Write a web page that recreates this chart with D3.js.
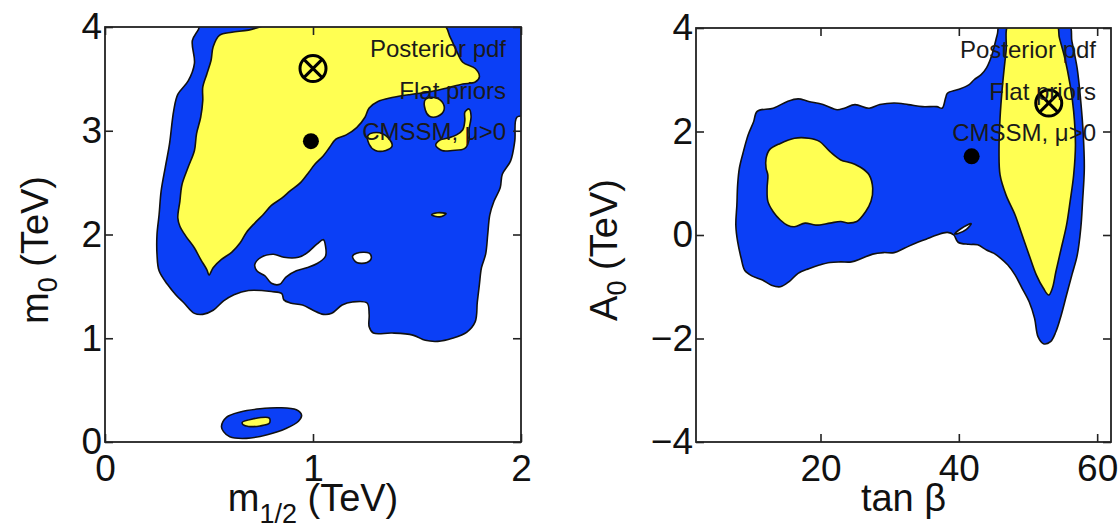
<!DOCTYPE html>
<html>
<head>
<meta charset="utf-8">
<script src="https://cdn.jsdelivr.net/npm/d3@7"></script>
<style>
  body { margin: 0; background: #fff; }
  svg { display: block; }
  text { font-family: "Liberation Sans", Arial, Helvetica, sans-serif; fill: #111; }
</style>
</head>
<body>
<svg id="chart" width="1118" height="525"></svg>
<script>
// Posterior pdf contours, CMSSM mu>0, flat priors

// Left panel: m_1/2 (TeV) vs m_0 (TeV)
const leftXTicks = [0, 1, 2];
const leftYTicks = [0, 1, 2, 3, 4];

// 95% region (blue), outer boundary
const leftBlue = [
    [0.47,4.08],[2.03,4.08],[2.03,3.16],[1.98,3.13],[1.97,2.90],[1.95,2.71],[1.91,2.58],[1.90,2.45],
    [1.87,2.32],[1.85,2.19],[1.84,2.00],[1.83,1.81],[1.81,1.68],[1.80,1.52],[1.79,1.35],[1.78,1.16],
    [1.74,1.06],[1.67,1.00],[1.60,0.97],[1.54,0.98],[1.48,1.03],[1.38,1.05],[1.29,1.05],[1.27,1.11],
    [1.27,1.23],[1.26,1.34],[1.19,1.35],[1.14,1.32],[1.09,1.24],[1.05,1.23],[1.00,1.27],[0.95,1.32],
    [0.89,1.34],[0.86,1.37],[0.85,1.43],[0.80,1.45],[0.69,1.46],[0.62,1.42],[0.57,1.36],[0.52,1.27],
    [0.47,1.23],[0.43,1.24],[0.38,1.34],[0.34,1.42],[0.30,1.52],[0.26,1.65],[0.25,1.81],[0.25,2.00],
    [0.26,2.19],[0.27,2.42],[0.29,2.65],[0.31,2.87],[0.33,3.19],[0.35,3.35],[0.40,3.48],[0.43,3.65],
    [0.42,3.87],[0.45,3.98]
];
// white holes inside the blue region
const leftHoles = [
    [[0.72,1.71],[0.75,1.78],[0.81,1.81],[0.86,1.78],[0.93,1.78],[0.97,1.82],[1.02,1.91],[1.05,1.95],
     [1.06,1.89],[1.06,1.79],[1.02,1.72],[0.97,1.68],[0.92,1.65],[0.87,1.59],[0.84,1.52],[0.80,1.53],
     [0.77,1.60],[0.73,1.65]],
    [[1.19,1.79],[1.21,1.82],[1.27,1.82],[1.28,1.77],[1.26,1.73],[1.21,1.73]]
];
// small island near the origin
const leftIslandBlue = [
    [0.56,0.15],[0.585,0.24],[0.65,0.29],[0.745,0.32],[0.84,0.33],[0.92,0.31],[0.945,0.26],[0.93,0.20],
    [0.87,0.13],[0.78,0.07],[0.68,0.035],[0.60,0.05],[0.57,0.10]
];
// 68% regions (yellow)
const leftYellow = [
    [[0.55,3.92],[0.61,3.95],[0.69,3.97],[0.80,4.03],[0.86,4.04],[1.62,4.04],[1.66,3.90],[1.69,3.77],
     [1.72,3.66],[1.78,3.60],[1.80,3.52],[1.78,3.47],[1.72,3.45],[1.64,3.41],[1.55,3.37],[1.47,3.35],
     [1.38,3.32],[1.31,3.28],[1.27,3.22],[1.25,3.13],[1.21,3.03],[1.16,2.96],[1.11,2.92],[1.08,2.84],
     [1.05,2.76],[1.01,2.68],[0.98,2.60],[0.94,2.50],[0.89,2.42],[0.85,2.35],[0.80,2.28],[0.76,2.19],
     [0.72,2.11],[0.68,2.02],[0.65,1.92],[0.61,1.83],[0.56,1.76],[0.52,1.68],[0.50,1.61],[0.49,1.66],
     [0.46,1.76],[0.43,1.87],[0.39,1.98],[0.36,2.08],[0.35,2.16],[0.36,2.32],[0.37,2.48],[0.40,2.65],
     [0.43,2.81],[0.44,2.97],[0.46,3.13],[0.47,3.29],[0.47,3.42],[0.49,3.55],[0.51,3.68],[0.52,3.81]],
    [[1.266,2.96],[1.32,2.98],[1.37,2.91],[1.38,2.85],[1.35,2.81],[1.30,2.81],[1.27,2.87]],
    [[1.54,3.30],[1.58,3.32],[1.62,3.28],[1.63,3.20],[1.60,3.14],[1.56,3.14],[1.54,3.20]],
    [[1.73,3.18],[1.75,3.21],[1.76,3.14],[1.75,3.01],[1.75,2.91],[1.73,2.83],[1.67,2.81],[1.62,2.81],
     [1.59,2.86],[1.61,2.91],[1.65,2.93],[1.69,2.96],[1.72,3.01],[1.73,3.10]],
    [[1.57,2.19],[1.60,2.21],[1.64,2.20],[1.61,2.17]],
    [[0.66,0.19],[0.705,0.22],[0.79,0.23],[0.79,0.18],[0.745,0.155],[0.69,0.15],[0.665,0.165]]
];
const leftMean = [1.0, 3.6];
const leftBest = [0.99, 2.9];

// Right panel: tan beta vs A_0 (TeV)
const rightXTicks = [20, 40, 60];
const rightYTicks = [-4, -2, 0, 2, 4];

const rightBlue = [
    [10.84,2.39],[13.16,2.45],[15.21,2.58],[16.76,2.63],[18.3,2.58],[20.36,2.52],[22.41,2.42],[23.44,2.45],
    [24.98,2.52],[27.04,2.45],[28.58,2.52],[30.64,2.55],[32.69,2.52],[34.75,2.48],[36.81,2.48],[37.58,2.45],
    [38.09,2.65],[38.35,2.74],[39.89,2.81],[41.44,2.90],[42.21,3.00],[43.23,3.10],[44.0,3.23],[44.78,3.48],
    [45.55,3.87],[46.06,4.1],[55.83,4.1],[56.35,3.74],[57.1,3.23],[57.63,2.58],[57.99,1.94],[58.14,1.29],
    [57.89,0.65],[57.63,0.13],[57.12,-0.39],[56.35,-0.77],[55.57,-1.16],[54.8,-1.55],[54.03,-1.87],[53.26,-2.06],
    [52.23,-2.10],[51.46,-1.97],[50.95,-1.61],[50.17,-1.29],[49.15,-1.03],[48.12,-0.77],[47.09,-0.58],[46.06,-0.45],
    [45.03,-0.35],[44.0,-0.29],[42.72,-0.19],[41.44,-0.18],[39.89,-0.14],[39.27,0.0],[38.35,0.05],[36.81,0.0],
    [35.27,-0.08],[33.72,-0.16],[32.18,-0.25],[30.64,-0.34],[29.1,-0.34],[27.55,-0.37],[26.01,-0.45],[24.47,-0.52],
    [22.93,-0.52],[21.38,-0.53],[19.84,-0.58],[18.3,-0.65],[16.76,-0.74],[15.47,-0.9],[14.19,-1.0],[12.9,-0.97],
    [11.61,-0.87],[10.07,-0.79],[9.04,-0.68],[8.53,-0.45],[8.02,-0.13],[7.76,0.19],[7.91,0.58],[8.02,0.97],
    [8.27,1.29],[8.79,1.58],[9.56,1.94],[10.33,2.19]
];
const rightHoles = [
    [[39.4,0.02],[40.4,0.13],[41.8,0.22],[41.1,0.11],[39.9,0.03]]
];
const rightYellow = [
    [[12.13,1.48],[12.64,1.65],[14.19,1.77],[16.24,1.87],[18.3,1.87],[19.84,1.81],[21.38,1.61],[22.93,1.45],
     [24.47,1.39],[26.01,1.29],[27.04,1.16],[27.55,0.90],[27.3,0.65],[26.52,0.45],[25.24,0.26],[23.95,0.23],
     [22.93,0.26],[21.38,0.23],[19.33,0.19],[17.78,0.23],[16.24,0.16],[15.21,0.19],[14.19,0.29],[13.16,0.45],
     [12.39,0.65],[12.28,0.90],[12.39,1.16],[12.13,1.29]],
    [[47.35,4.1],[46.83,3.55],[46.32,2.9],[45.96,2.26],[45.81,1.61],[45.96,1.16],[46.83,0.77],[48.12,0.39],
     [49.15,0.0],[50.17,-0.39],[51.2,-0.77],[52.23,-1.03],[53.0,-1.16],[53.52,-1.03],[54.03,-0.71],[54.8,-0.26],
     [55.57,0.19],[56.09,0.65],[56.6,1.16],[56.86,1.74],[56.6,2.39],[56.09,2.9],[55.32,3.42],[54.54,3.81],
     [54.03,4.1]]
];
const rightMean = [53.0, 2.55];
const rightBest = [41.85, 1.52];

const annotations = ['Posterior pdf', 'Flat priors', 'CMSSM, \u03bc>0'];

const colors = { blue: '#0b3ff6', yellow: '#ffff52', hole: '#ffffff', line: '#111111' };

const panels = [
    {
        id: 'L', box: { left: 105, right: 521, top: 27, bottom: 442 },
        xDomain: [0, 2], yDomain: [0, 4], xTicks: leftXTicks, yTicks: leftYTicks,
        blue: [leftBlue, leftIslandBlue], holes: leftHoles, yellow: leftYellow,
        mean: leftMean, best: leftBest,
        xTitle: [['m', 38, 0], ['1/2', 27, 12], [' (TeV)', 38, -12]],
        yTitle: [['m', 38, 0], ['0', 27, 9], [' (TeV)', 38, -9]],
        yTitleX: 48
    },
    {
        id: 'R', box: { left: 696, right: 1111, top: 28, bottom: 442 },
        xDomain: [2, 62], yDomain: [-4, 4], xTicks: rightXTicks, yTicks: rightYTicks,
        blue: [rightBlue], holes: rightHoles, yellow: rightYellow,
        mean: rightMean, best: rightBest,
        xTitle: [['tan \u03b2', 38, 0]],
        yTitle: [['A', 38, 0], ['0', 27, 9], [' (TeV)', 38, -9]],
        yTitleX: 617
    }
];

const svg = d3.select('#chart');
const fmt = v => v < 0 ? '\u2212' + Math.abs(v) : d3.format('d')(v);

panels.forEach(drawPanel);

function drawPanel(p) {
    const b = p.box;
    const x = d3.scaleLinear().domain(p.xDomain).range([b.left, b.right]);
    const y = d3.scaleLinear().domain(p.yDomain).range([b.bottom, b.top]);

    const line = d3.line()
        .x(d => x(d[0]))
        .y(d => y(d[1]))
        .curve(d3.curveCatmullRomClosed.alpha(0.5));

    svg.append('clipPath')
        .attr('id', 'clip' + p.id)
        .append('rect')
        .attr('x', b.left).attr('y', b.top)
        .attr('width', b.right - b.left).attr('height', b.bottom - b.top);

    const g = svg.append('g').attr('clip-path', `url(#clip${p.id})`);

    const layers = [
        [p.blue, colors.blue],
        [p.holes, colors.hole],
        [p.yellow, colors.yellow]
    ];
    layers.forEach(([polys, fill]) => {
        g.selectAll(null)
            .data(polys)
            .enter().append('path')
            .attr('d', line)
            .attr('fill', fill)
            .attr('stroke', colors.line)
            .attr('stroke-width', 1.6)
            .attr('stroke-linejoin', 'round');
    });

    // posterior mean (circled cross) and best fit (dot)
    const r = 13;
    const mx = x(p.mean[0]), my = y(p.mean[1]);
    const mk = svg.append('g').attr('stroke', '#000').attr('stroke-width', 3).attr('fill', 'none');
    mk.append('circle').attr('cx', mx).attr('cy', my).attr('r', r);
    const d = r * 0.72;
    mk.append('line').attr('x1', mx - d).attr('y1', my - d).attr('x2', mx + d).attr('y2', my + d);
    mk.append('line').attr('x1', mx - d).attr('y1', my + d).attr('x2', mx + d).attr('y2', my - d);

    svg.append('circle')
        .attr('cx', x(p.best[0])).attr('cy', y(p.best[1]))
        .attr('r', 8).attr('fill', '#000');

    // annotation text, right aligned
    svg.append('g').selectAll('text')
        .data(annotations)
        .enter().append('text')
        .attr('x', b.right - 15)
        .attr('y', (t, i) => b.top + 30 + i * 41.5)
        .attr('text-anchor', 'end')
        .attr('font-size', 24)
        .style('fill', '#1a1a1a')
        .text(t => t);

    // axes: inward ticks on all four sides
    const tick = 8;
    const axB = svg.append('g').attr('transform', `translate(0,${b.bottom})`)
        .call(d3.axisBottom(x).tickValues(p.xTicks).tickSize(-tick).tickPadding(13).tickFormat(fmt));
    const axT = svg.append('g').attr('transform', `translate(0,${b.top})`)
        .call(d3.axisTop(x).tickValues(p.xTicks).tickSize(-tick).tickFormat(''));
    const axL = svg.append('g').attr('transform', `translate(${b.left},0)`)
        .call(d3.axisLeft(y).tickValues(p.yTicks).tickSize(-tick).tickPadding(3).tickFormat(fmt));
    const axR = svg.append('g').attr('transform', `translate(${b.right},0)`)
        .call(d3.axisRight(y).tickValues(p.yTicks).tickSize(-tick).tickFormat(''));

    [axB, axT, axL, axR].forEach(a => {
        a.select('.domain').remove();
        a.selectAll('line').attr('stroke', '#222').attr('stroke-width', 1.6);
        a.selectAll('text')
            .attr('font-family', '"Liberation Sans", Arial, sans-serif')
            .attr('font-size', 37)
            .attr('fill', '#111');
    });

    svg.append('rect')
        .attr('x', b.left).attr('y', b.top)
        .attr('width', b.right - b.left).attr('height', b.bottom - b.top)
        .attr('fill', 'none').attr('stroke', '#222').attr('stroke-width', 1.8);

    // axis titles
    const cx = (b.left + b.right) / 2;
    const xt = svg.append('text')
        .attr('x', cx).attr('y', 511)
        .attr('text-anchor', 'middle');
    addParts(xt, p.xTitle);

    const yt = svg.append('text')
        .attr('transform', `translate(${p.yTitleX},250) rotate(-90)`)
        .attr('text-anchor', 'middle');
    addParts(yt, p.yTitle);
}

function addParts(sel, parts) {
    parts.forEach(([str, size, dy]) => {
        sel.append('tspan')
            .attr('font-size', size)
            .attr('dy', dy)
            .text(str);
    });
}
</script>
</body>
</html>
